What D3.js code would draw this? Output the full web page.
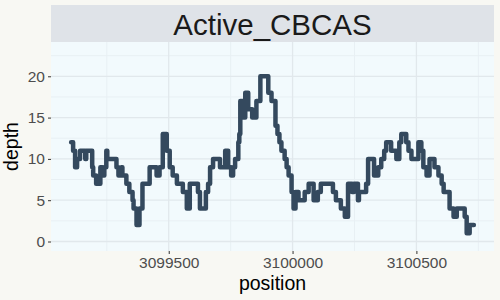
<!DOCTYPE html>
<html>
<head>
<meta charset="utf-8">
<script src="https://cdn.jsdelivr.net/npm/d3@7"></script>
<style>
  body { margin: 0; background: #f8f8f3; }
  text { font-family: "Liberation Sans", Arial, sans-serif; }
</style>
</head>
<body>
<div id="chart"></div>
<script>
// coverage depth along the region (step line)
const positions = [
  3099106, 3099114, 3099122, 3099130, 3099142, 3099163, 3099167, 3099191, 3099195, 3099207,
  3099224, 3099232, 3099240, 3099248, 3099252, 3099289, 3099297, 3099309, 3099313, 3099329,
  3099341, 3099354, 3099358, 3099370, 3099382, 3099394, 3099423, 3099451, 3099463, 3099476,
  3099492, 3099504, 3099516, 3099533, 3099557, 3099573, 3099585, 3099618, 3099626, 3099650,
  3099659, 3099667, 3099679, 3099707, 3099728, 3099740, 3099752, 3099760, 3099768, 3099781,
  3099785, 3099789, 3099801, 3099809, 3099821, 3099837, 3099854, 3099870, 3099902, 3099915,
  3099931, 3099939, 3099947, 3099955, 3099968, 3099976, 3099984, 3099996, 3100004, 3100012,
  3100024, 3100049, 3100065, 3100085, 3100102, 3100114, 3100163, 3100175, 3100195, 3100211,
  3100224, 3100240, 3100248, 3100264, 3100268, 3100297, 3100305, 3100329, 3100346, 3100358,
  3100370, 3100378, 3100398, 3100419, 3100431, 3100439, 3100459, 3100468, 3100480, 3100508,
  3100520, 3100528, 3100541, 3100553, 3100573, 3100589, 3100602, 3100610, 3100634, 3100650,
  3100663, 3100695, 3100703, 3100715, 3100732
];
const depths = [
  12, 11, 9, 10, 11, 10, 11, 9, 8, 7,
  9, 8, 9, 11, 10, 9, 8, 9, 8, 7,
  6, 5, 4, 2, 4, 7, 9, 8, 9, 13,
  11, 9, 8, 7, 6, 4, 7, 6, 4, 6,
  7, 9, 10, 9, 11, 9, 8, 9, 10, 12,
  13, 17, 15, 18, 16, 15, 17, 20, 18, 17,
  14, 13, 12, 11, 10, 9, 8, 6, 4, 6,
  5, 6, 7, 5, 6, 7, 6, 5, 4, 3,
  7, 6, 7, 5, 6, 7, 10, 8, 9, 10,
  11, 12, 11, 10, 12, 13, 12, 11, 10, 12,
  11, 9, 8, 10, 9, 8, 7, 6, 4, 3,
  4, 3, 1, 2, 2
];
const xTicks = [3099500, 3100000, 3100500];
const xMinor = [3099250, 3099750, 3100250, 3100750];
const yTicks = [0, 5, 10, 15, 20];
const yMinor = [2.5, 7.5, 12.5, 17.5, 22.5];
const title = "Active_CBCAS";

const data = positions.map((p, i) => ({ pos: p, depth: depths[i] }));

const W = 500, H = 300;
const panel = { left: 51, right: 494, top: 42, bottom: 251 };

const svg = d3.select("#chart").append("svg")
  .attr("width", W).attr("height", H);

svg.append("rect").attr("width", W).attr("height", H).attr("fill", "#f8f8f3");

// x range with 5% expansion like ggplot
const xExt = d3.extent(positions);
const xPad = (xExt[1] - xExt[0]) * 0.05;
const x = d3.scaleLinear()
  .domain([xExt[0] - xPad, xExt[1] + xPad])
  .range([panel.left, panel.right]);

const y = d3.scaleLinear()
  .domain([-1.15, 24.15])
  .range([panel.bottom, panel.top]);

// panel
svg.append("rect")
  .attr("x", panel.left).attr("y", panel.top)
  .attr("width", panel.right - panel.left).attr("height", panel.bottom - panel.top)
  .attr("fill", "#f2fafd");

// grid
const grid = svg.append("g");
grid.selectAll(".ymin").data(yMinor).enter().append("line")
  .attr("x1", panel.left).attr("x2", panel.right)
  .attr("y1", d => y(d)).attr("y2", d => y(d))
  .attr("stroke", "#e8f0f4").attr("stroke-width", 1);
grid.selectAll(".xmin").data(xMinor).enter().append("line")
  .attr("y1", panel.top).attr("y2", panel.bottom)
  .attr("x1", d => x(d)).attr("x2", d => x(d))
  .attr("stroke", "#e8f0f4").attr("stroke-width", 1);
grid.selectAll(".ymaj").data(yTicks).enter().append("line")
  .attr("x1", panel.left).attr("x2", panel.right)
  .attr("y1", d => y(d)).attr("y2", d => y(d))
  .attr("stroke", "#e1e8ec").attr("stroke-width", 1.3);
grid.selectAll(".xmaj").data(xTicks).enter().append("line")
  .attr("y1", panel.top).attr("y2", panel.bottom)
  .attr("x1", d => x(d)).attr("x2", d => x(d))
  .attr("stroke", "#e1e8ec").attr("stroke-width", 1.3);

// step line
const line = d3.line()
  .x(d => x(d.pos))
  .y(d => y(d.depth))
  .curve(d3.curveStepAfter);

svg.append("path")
  .datum(data)
  .attr("d", line)
  .attr("fill", "none")
  .attr("stroke", "#34495e")
  .attr("stroke-width", 4.5)
  .attr("stroke-linejoin", "round")
  .attr("stroke-linecap", "round");

// axes
const xAxis = svg.append("g")
  .attr("transform", `translate(0,${panel.bottom})`)
  .call(d3.axisBottom(x).tickValues(xTicks).tickFormat(d3.format("d")).tickSizeOuter(0).tickSize(3).tickPadding(3));
xAxis.select(".domain").remove();
xAxis.selectAll("line").attr("stroke", "#333");
xAxis.selectAll("text").attr("fill", "#4d4d4d").style("font-size", "15.5px")
  .style("font-family", "Liberation Sans, Arial, sans-serif");

const yAxis = svg.append("g")
  .attr("transform", `translate(${panel.left},0)`)
  .call(d3.axisLeft(y).tickValues(yTicks).tickSizeOuter(0).tickSize(3).tickPadding(3));
yAxis.select(".domain").remove();
yAxis.selectAll("line").attr("stroke", "#333");
yAxis.selectAll("text").attr("fill", "#4d4d4d").style("font-size", "15.5px")
  .style("font-family", "Liberation Sans, Arial, sans-serif");

// strip
svg.append("rect")
  .attr("x", panel.left).attr("y", 5)
  .attr("width", panel.right - panel.left).attr("height", panel.top - 5)
  .attr("fill", "#dfe3e8");
svg.append("text")
  .attr("x", (panel.left + panel.right) / 2).attr("y", 35)
  .attr("text-anchor", "middle")
  .attr("fill", "#1a1a1a")
  .style("font-size", "29.5px")
  .text(title);

// axis titles
svg.append("text")
  .attr("x", (panel.left + panel.right) / 2).attr("y", 290)
  .attr("text-anchor", "middle")
  .attr("fill", "#000")
  .style("font-size", "19.5px")
  .text("position");

svg.append("text")
  .attr("transform", `translate(18,${(panel.top + panel.bottom) / 2})rotate(-90)`)
  .attr("text-anchor", "middle")
  .attr("fill", "#000")
  .style("font-size", "19.5px")
  .text("depth");
</script>
</body>
</html>
